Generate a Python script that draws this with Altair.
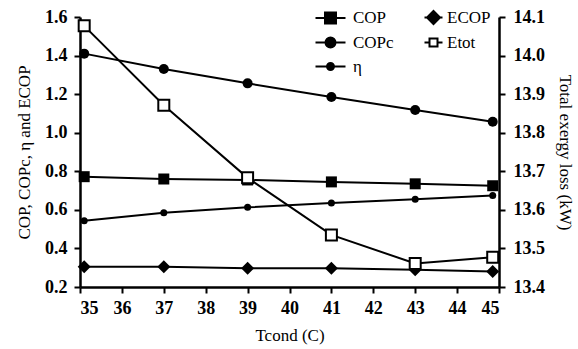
import altair as alt
import pandas as pd

# ---- data ----
T = [35.1, 37, 39, 41, 43, 44.85]
cop = [0.772, 0.76, 0.755, 0.745, 0.735, 0.725]
copc = [1.41, 1.33, 1.256, 1.185, 1.118, 1.057]
eta = [0.544, 0.585, 0.613, 0.635, 0.655, 0.674]
ecop = [0.305, 0.305, 0.297, 0.297, 0.29, 0.28]
etot = [14.077, 13.871, 13.683, 13.535, 13.461, 13.477]

left_series = ["COP", "COPc", "η", "ECOP"]
legend_names = ["COP", "COPc", "η", "ECOP", "Etot"]
x_ticks = list(range(35, 46))
left_ticks = [0.2, 0.4, 0.6, 0.8, 1.0, 1.2, 1.4, 1.6]
right_ticks = [13.4, 13.5, 13.6, 13.7, 13.8, 13.9, 14.0, 14.1]

FONT = "Liberation Serif"

left_df = pd.DataFrame({
    "T": T * 4,
    "series": sum([[s] * len(T) for s in left_series], []),
    "value": cop + copc + eta + ecop,
})
right_df = pd.DataFrame({"T": T, "value": etot})
legend_df = pd.DataFrame({"series": legend_names})

x_enc = alt.X("T:Q", scale=alt.Scale(domain=[35, 45], nice=False, zero=False),
              axis=alt.Axis(values=x_ticks, title="Tcond (C)", format="d",
                            labelPadding=6, titlePadding=10))
yl_enc = alt.Y("value:Q", scale=alt.Scale(domain=[0.2, 1.6], nice=False, zero=False),
               axis=alt.Axis(values=left_ticks, format=".1f",
                             title="COP, COPc, η and ECOP", titlePadding=11, labelPadding=7))
yr_enc = alt.Y("value:Q", scale=alt.Scale(domain=[13.4, 14.1], nice=False, zero=False),
               axis=alt.Axis(values=right_ticks, format=".1f", orient="right",
                             title="Total exergy loss (kW)", titlePadding=11, labelPadding=8))

base_l = alt.Chart(left_df)
lines_l = base_l.mark_line(color="black", strokeWidth=2).encode(x=x_enc, y=yl_enc, detail="series:N")

def pts(name, shape, size):
    return base_l.transform_filter(alt.datum.series == name).mark_point(
        shape=shape, size=size, filled=True, color="black", opacity=1
    ).encode(x=x_enc, y=yl_enc)

p_cop = pts("COP", "square", 121)
p_copc = pts("COPc", "circle", 100)
p_eta = pts("η", "circle", 49)
p_ecop = pts("ECOP", "diamond", 169)

# legend-only layer (no data drawn); symbol paths in units of 5 px
paths = [
    "M-1,0H5M0.9,-1.1H3.1V1.1H0.9Z",
    "M-1,0H5M1,0A1,1 0 1,1 3,0A1,1 0 1,1 1,0Z",
    "M-1,0H5M1.3,0A0.7,0.7 0 1,1 2.7,0A0.7,0.7 0 1,1 1.3,0Z",
    "M2,0H5.6M3.8,-1.3L5.1,0L3.8,1.3L2.5,0Z",
    "M2,0H3M4.6,0H5.6M3,-0.8H4.6V0.8H3Z",
]
fills = ["black", "black", "black", "black", "white"]
leg = dict(orient="none", legendX=232, legendY=-8, columns=2, title=None,
           labelFont=FONT, labelFontSize=17, labelFontWeight="normal", labelColor="black",
           labelOffset=24, symbolSize=100, symbolStrokeWidth=2,
           columnPadding=12, rowPadding=5, padding=0)
legend_layer = alt.Chart(legend_df).transform_filter("false").mark_point(
    filled=False, size=100, strokeWidth=2, opacity=1
).encode(
    shape=alt.Shape("series:N", scale=alt.Scale(domain=legend_names, range=paths), legend=alt.Legend(**leg)),
    fill=alt.Fill("series:N", scale=alt.Scale(domain=legend_names, range=fills), legend=alt.Legend(**leg)),
    stroke=alt.Stroke("series:N", scale=alt.Scale(domain=legend_names, range=["black"] * 5), legend=alt.Legend(**leg)),
)

left = alt.layer(lines_l, p_cop, p_copc, p_eta, p_ecop, legend_layer)

base_r = alt.Chart(right_df)
lines_r = base_r.mark_line(color="black", strokeWidth=2).encode(x=x_enc, y=yr_enc)
pts_r = base_r.mark_point(shape="square", size=121, filled=True, fill="white",
                          stroke="black", strokeWidth=2, opacity=1).encode(x=x_enc, y=yr_enc)
right = alt.layer(lines_r, pts_r)

chart = alt.layer(left, right).resolve_scale(y="independent").properties(
    width=419, height=270,
    background="white",
    autosize=alt.AutoSizeParams(type="none"),
    padding={"left": 80, "top": 17, "right": 79, "bottom": 62},
).configure_view(stroke=None).configure_axis(
    grid=False, domainColor="black", domainWidth=2.5, tickColor="black",
    tickWidth=2, tickSize=6, labelFont=FONT, labelFontSize=18, labelFontWeight="bold",
    labelColor="black", titleFont=FONT, titleFontSize=17, titleFontWeight="normal",
    titleColor="black",
).configure_legend(labelFont=FONT, labelFontSize=17, labelColor="black")

chart.save("out.html", embed_options={"renderer": "svg", "actions": False})
